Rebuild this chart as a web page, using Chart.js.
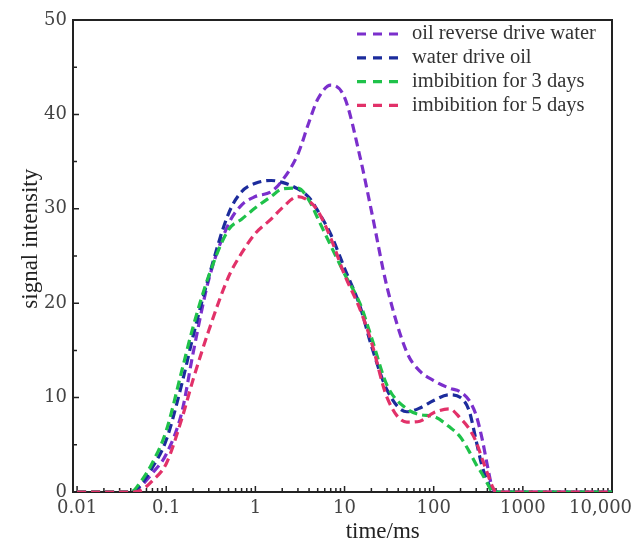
<!DOCTYPE html>
<html>
<head>
<meta charset="utf-8">
<title>signal intensity vs time</title>
<script src="https://cdn.jsdelivr.net/npm/chart.js@4.4.1/dist/chart.umd.min.js"></script>
<style>
  html, body { margin: 0; padding: 0; background: #fff; }
  #wrap { width: 634px; height: 546px; }
</style>
</head>
<body>
<div id="wrap"><canvas id="chart-t2" width="634" height="546"></canvas></div>
<script>
'use strict';

// time axis (ms), shared by all four curves
var times = [0.01, 0.02, 0.03, 0.04, 0.05, 0.07, 0.1, 0.15, 0.2, 0.3, 0.5, 0.7,
             1, 1.5, 2, 3, 4, 5, 7, 10, 15, 20, 30, 50, 70,
             100, 150, 200, 250, 300, 350, 400, 450, 500, 1000, 10000];

var oilReverseDriveWater = [0, 0, 0, 0, 0.5, 2.0, 4.0, 8.5, 14.7, 22.5, 28.4, 30.4,
                            31.3, 31.8, 33.0, 35.8, 39.2, 41.6, 43.1, 41.8, 35.4, 29.8, 21.7, 14.8, 12.8,
                            11.8, 11.0, 10.6, 9.7, 8.1, 5.6, 2.8, 0.6, 0, 0, 0];

var waterDriveOil = [0, 0, 0, 0, 0.6, 2.6, 5.5, 11.5, 16.5, 22.8, 29.5, 31.8,
                     32.7, 33.0, 32.8, 32.1, 31.2, 29.8, 27.3, 23.7, 19.6, 15.5, 10.8, 8.5, 8.9,
                     9.7, 10.3, 10.0, 8.6, 5.4, 2.7, 1.2, 0.1, 0, 0, 0];

var imbibition3d = [0, 0, 0, 0, 0.9, 3.1, 6.5, 12.9, 17.5, 22.9, 27.8, 28.9,
                    30.1, 31.3, 32.1, 32.2, 30.9, 29.0, 26.1, 23.1, 19.9, 16.4, 11.3, 8.8, 8.2,
                    8.0, 6.9, 5.8, 4.3, 2.9, 1.9, 0.9, 0.1, 0, 0, 0];

var imbibition5d = [0, 0, 0, 0, 0.1, 1.2, 3.0, 7.8, 11.9, 17.1, 22.8, 25.3,
                    27.4, 28.9, 30.1, 31.3, 30.8, 29.8, 26.9, 23.0, 19.3, 15.9, 10.0, 7.4, 7.5,
                    8.4, 8.8, 7.8, 6.7, 5.3, 3.5, 2.0, 0.7, 0, 0, 0];

var seriesNames = ['oil reverse drive water', 'water drive oil',
                   'imbibition for 3 days', 'imbibition for 5 days'];

var xTickValues = [0.01, 0.1, 1, 10, 100, 1000, 10000];
var xTickLabels = ['0.01', '0.1', '1', '10', '100', '1000', '10,000'];

var colors = ['#7b2fcc', '#1c2c9c', '#1fc24a', '#e23169'];

function pairs(ys) {
  return times.map(function (t, i) { return { x: t, y: ys[i] }; });
}

function curve(idx, ys, order) {
  return {
    label: seriesNames[idx],
    data: pairs(ys),
    borderColor: colors[idx],
    backgroundColor: colors[idx],
    borderWidth: 3.2,
    borderDash: [9, 5],
    pointRadius: 0,
    fill: false,
    cubicInterpolationMode: 'monotone',
    order: order
  };
}

// box around the plot + small inward ticks
var framePlugin = {
  id: 'frame',
  beforeDatasetsDraw: function (chart) {
    var a = chart.chartArea, ctx = chart.ctx;
    var xs = chart.scales.x, ys = chart.scales.y;
    ctx.save();
    ctx.strokeStyle = '#222';
    ctx.lineWidth = 2;
    ctx.strokeRect(a.left, a.top, a.right - a.left, a.bottom - a.top);
    ctx.lineWidth = 1.5;
    ctx.beginPath();
    for (var v = 0; v <= 50; v += 5) {
      var py = ys.getPixelForValue(v);
      var len = v % 10 === 0 ? 6 : 4;
      ctx.moveTo(a.left, py);
      ctx.lineTo(a.left + len, py);
    }
    xTickValues.forEach(function (d) {
      for (var k = 1; k <= 9; k++) {
        var val = d * k;
        if (val > xs.max) break;
        var px = xs.getPixelForValue(val);
        ctx.moveTo(px, a.bottom);
        ctx.lineTo(px, a.bottom - (k === 1 ? 6 : 4));
      }
    });
    ctx.stroke();
    ctx.restore();
  }
};

// legend drawn inside the plot, top right
var legendPlugin = {
  id: 'insideLegend',
  afterDatasetsDraw: function (chart) {
    var ctx = chart.ctx, a = chart.chartArea;
    var x0 = a.right - 255;
    ctx.save();
    ctx.font = '20.5px "Liberation Serif"';
    ctx.textBaseline = 'middle';
    chart.data.datasets.forEach(function (ds, i) {
      var yy = a.top + 14 + i * 23.8;
      ctx.strokeStyle = ds.borderColor;
      ctx.lineWidth = 3.2;
      ctx.setLineDash([9, 7]);
      ctx.beginPath();
      ctx.moveTo(x0, yy);
      ctx.lineTo(x0 + 41, yy);
      ctx.stroke();
      ctx.setLineDash([]);
      ctx.fillStyle = '#333';
      ctx.fillText(ds.label, x0 + 55, yy);
    });
    ctx.restore();
  }
};

var canvas = document.getElementById('chart-t2');

new Chart(canvas, {
  type: 'line',
  data: {
    datasets: [
      curve(0, oilReverseDriveWater, 3),
      curve(1, waterDriveOil, 2),
      curve(2, imbibition3d, 1),
      curve(3, imbibition5d, 0)
    ]
  },
  options: {
    responsive: false,
    animation: false,
    devicePixelRatio: 1,
    layout: { padding: { left: 0, top: 20, right: 22, bottom: 0 } },
    plugins: {
      legend: { display: false },
      tooltip: { enabled: false }
    },
    scales: {
      x: {
        type: 'logarithmic',
        min: 0.009,
        max: 10000,
        grid: { display: false, drawTicks: false },
        border: { display: false },
        afterBuildTicks: function (scale) {
          scale.ticks = xTickValues.map(function (v) { return { value: v }; });
        },
        afterFit: function (scale) {
          scale.height = 54;
          scale.paddingLeft = 0;
          scale.paddingRight = 0;
        },
        ticks: {
          autoSkip: false,
          maxRotation: 0,
          padding: 6,
          color: '#444',
          font: { family: '"DejaVu Serif"', size: 18 },
          callback: function (value, index) {
            var s = xTickLabels[index];
            return index === xTickLabels.length - 1 ? s + '\u2007\u2007' : s;
          }
        },
        title: {
          display: true,
          text: '\u2003\u2003\u2003\u2002time/ms',
          color: '#222',
          font: { family: '"Liberation Serif"', size: 23 },
          padding: { top: 0, bottom: 0 }
        }
      },
      y: {
        min: 0,
        max: 50,
        grid: { display: false, drawTicks: false },
        border: { display: false },
        afterFit: function (scale) {
          scale.width = 73;
        },
        ticks: {
          stepSize: 10,
          padding: 6,
          color: '#444',
          font: { family: '"DejaVu Serif"', size: 18 }
        },
        title: {
          display: true,
          text: '\u2003\u2002signal intensity',
          color: '#222',
          font: { family: '"Liberation Serif"', size: 23 },
          padding: { top: 17, bottom: 0 }
        }
      }
    }
  },
  plugins: [framePlugin, legendPlugin]
});
</script>
</body>
</html>
